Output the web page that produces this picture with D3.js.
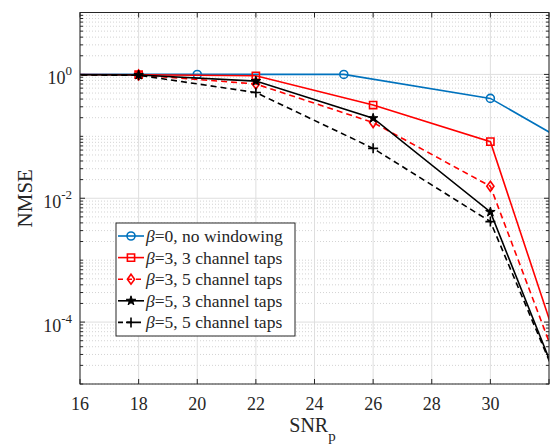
<!DOCTYPE html>
<html>
<head>
<meta charset="utf-8">
<script src="https://cdn.jsdelivr.net/npm/d3@7"></script>
<style>
  body { margin: 0; background: #fff; }
  svg text { font-family: "Liberation Serif", "Times New Roman", serif; fill: #262626; }
</style>
</head>
<body>
<svg id="chart" width="550" height="447"></svg>
<script>
// values
var snrBlue = [15, 20, 25, 30, 35];
var nmseBlue = [1.0, 1.0, 1.0, 0.41, 0.018];

var snr = [14, 18, 22, 26, 30, 34];
var nmseB3t3 = [1.0, 0.99, 0.95, 0.32, 0.082, 1.6e-7];
var nmseB3t5 = [1.0, 0.98, 0.70, 0.167, 0.0156, 1.5e-7];
var nmseB5t3 = [1.0, 0.98, 0.78, 0.196, 0.006, 1.1e-7];
var nmseB5t5 = [0.99, 0.97, 0.51, 0.064, 0.0042, 1.4e-7];

var xTicks = [16, 18, 20, 22, 24, 26, 28, 30, 32];
var xTickLabels = ["16", "18", "20", "22", "24", "26", "28", "30", ""];
var yTicks = [1, 1e-2, 1e-4];
var yTickExp = ["0", "-2", "-4"];

var legendNames = ["=0, no windowing", "=3, 3 channel taps", "=3, 5 channel taps",
                   "=5, 3 channel taps", "=5, 5 channel taps"];

var series = [
  {x: snrBlue, y: nmseBlue, color: "#0072BD", dash: null, marker: "circle"},
  {x: snr, y: nmseB3t3, color: "#FF0000", dash: null, marker: "square"},
  {x: snr, y: nmseB3t5, color: "#FF0000", dash: "6,4", marker: "diamond"},
  {x: snr, y: nmseB5t3, color: "#000000", dash: null, marker: "star"},
  {x: snr, y: nmseB5t5, color: "#000000", dash: "6,4", marker: "plus"}
];

var margin = {top: 12.5, right: 1, bottom: 63, left: 80},
    width = 550 - margin.left - margin.right,
    height = 447 - margin.top - margin.bottom;

var svg = d3.select("#chart");
var g = svg.append("g")
  .attr("transform", "translate(" + margin.left + "," + margin.top + ")");

var x = d3.scaleLinear().domain([16, 32]).range([0, width]);
var y = d3.scaleLog().domain([1e-5, 10]).range([height, 0]);

g.append("defs").append("clipPath").attr("id", "clip")
  .append("rect").attr("width", width).attr("height", height);

// minor grid (dotted)
var minor = [];
for (var e = -5; e < 1; e++) {
  for (var m = 2; m <= 9; m++) minor.push(m * Math.pow(10, e));
}
var decades = [1e-5, 1e-4, 1e-3, 1e-2, 1e-1, 1, 10];
var minorAll = minor.concat([1e-5, 1e-3, 1e-1, 10]);
g.selectAll(".ygridminor").data(minorAll).enter().append("line")
  .attr("x1", 0).attr("x2", width)
  .attr("y1", function(d) { return y(d); }).attr("y2", function(d) { return y(d); })
  .attr("stroke", "#c8c8c8").attr("stroke-width", 0.8)
  .attr("stroke-dasharray", "1,2");

// major grid
g.selectAll(".xgrid").data(xTicks).enter().append("line")
  .attr("x1", function(d) { return x(d); }).attr("x2", function(d) { return x(d); })
  .attr("y1", 0).attr("y2", height)
  .attr("stroke", "#dedede").attr("stroke-width", 1);
g.selectAll(".ygrid").data(yTicks).enter().append("line")
  .attr("x1", 0).attr("x2", width)
  .attr("y1", function(d) { return y(d); }).attr("y2", function(d) { return y(d); })
  .attr("stroke", "#dedede").attr("stroke-width", 1);

// axis ticks (inward, both sides)
var tk = g.append("g").attr("stroke", "#262626").attr("stroke-width", 1);
xTicks.forEach(function(t) {
  tk.append("line").attr("x1", x(t)).attr("x2", x(t)).attr("y1", height).attr("y2", height - 5);
  tk.append("line").attr("x1", x(t)).attr("x2", x(t)).attr("y1", 0).attr("y2", 5);
});
yTicks.forEach(function(t) {
  tk.append("line").attr("x1", 0).attr("x2", 5).attr("y1", y(t)).attr("y2", y(t));
  tk.append("line").attr("x1", width).attr("x2", width - 5).attr("y1", y(t)).attr("y2", y(t));
});
minor.concat(decades).forEach(function(t) {
  if (yTicks.indexOf(t) >= 0) return;
  tk.append("line").attr("x1", 0).attr("x2", 3).attr("y1", y(t)).attr("y2", y(t));
  tk.append("line").attr("x1", width).attr("x2", width - 3).attr("y1", y(t)).attr("y2", y(t));
});

// tick labels
g.selectAll(".xlab").data(xTicks).enter().append("text")
  .attr("x", function(d) { return x(d); })
  .attr("y", height + 26)
  .attr("text-anchor", "middle")
  .attr("font-size", 18)
  .text(function(d, i) { return xTickLabels[i]; });

yTicks.forEach(function(t, i) {
  var tx = g.append("text")
    .attr("x", -8).attr("y", y(t) + 10)
    .attr("text-anchor", "end").attr("font-size", 18);
  tx.append("tspan").text("10");
  tx.append("tspan").attr("dy", -9).attr("font-size", 13).text(yTickExp[i]);
});

// axis labels
var xl = svg.append("text")
  .attr("x", margin.left + width / 2 - 2)
  .attr("y", 432)
  .attr("text-anchor", "middle")
  .attr("font-size", 20);
xl.append("tspan").text("SNR");
xl.append("tspan").attr("dy", 9).attr("font-size", 15).text("p");

svg.append("text")
  .attr("transform", "translate(32," + (margin.top + height / 2) + ") rotate(-90)")
  .attr("text-anchor", "middle")
  .attr("font-size", 21)
  .text("NMSE");

// markers
function markerPath(type) {
  if (type == "circle") return d3.symbol().type(d3.symbolCircle).size(50)();
  if (type == "square") return "M-3.6,-3.6H3.6V3.6H-3.6Z";
  if (type == "diamond") return "M0,-5L3.6,0L0,5L-3.6,0Z";
  if (type == "star") return d3.symbol().type(d3.symbolStar).size(28)();
  if (type == "plus") return "M-5,0H5M0,-5V5";
}

var line = d3.line()
  .x(function(d) { return x(d[0]); })
  .y(function(d) { return y(d[1]); });

var plot = g.append("g").attr("clip-path", "url(#clip)");
series.forEach(function(s) {
  var pts = s.x.map(function(v, i) { return [v, s.y[i]]; });
  plot.append("path")
    .datum(pts)
    .attr("fill", "none")
    .attr("stroke", s.color)
    .attr("stroke-width", 1.6)
    .attr("stroke-dasharray", s.dash)
    .attr("d", line);
  plot.selectAll(null).data(pts).enter().append("path")
    .attr("transform", function(d) { return "translate(" + x(d[0]) + "," + y(d[1]) + ")"; })
    .attr("d", markerPath(s.marker))
    .attr("fill", s.marker == "star" ? s.color : "none")
    .attr("stroke", s.color)
    .attr("stroke-width", s.marker == "star" ? 1 : 1.6);
});

// axis box
g.append("rect")
  .attr("width", width).attr("height", height)
  .attr("fill", "none").attr("stroke", "#262626").attr("stroke-width", 1);

// legend
var lg = svg.append("g").attr("transform", "translate(116,223)");
lg.append("rect")
  .attr("width", 179).attr("height", 113)
  .attr("fill", "#fff").attr("stroke", "#262626").attr("stroke-width", 1);
series.forEach(function(s, i) {
  var ly = 13 + i * 21.6;
  lg.append("line")
    .attr("x1", 2).attr("x2", 28).attr("y1", ly).attr("y2", ly)
    .attr("stroke", s.color).attr("stroke-width", 1.6)
    .attr("stroke-dasharray", s.dash ? "5,4" : null);
  lg.append("path")
    .attr("transform", "translate(15," + ly + ")")
    .attr("d", markerPath(s.marker))
    .attr("fill", s.marker == "star" ? s.color : "none")
    .attr("stroke", s.color).attr("stroke-width", s.marker == "star" ? 1 : 1.6);
  var t = lg.append("text")
    .attr("x", 30).attr("y", ly + 6)
    .attr("font-size", 17.5);
  t.append("tspan").attr("font-style", "italic").text("\u03B2");
  t.append("tspan").text(legendNames[i]);
});
</script>
</body>
</html>
